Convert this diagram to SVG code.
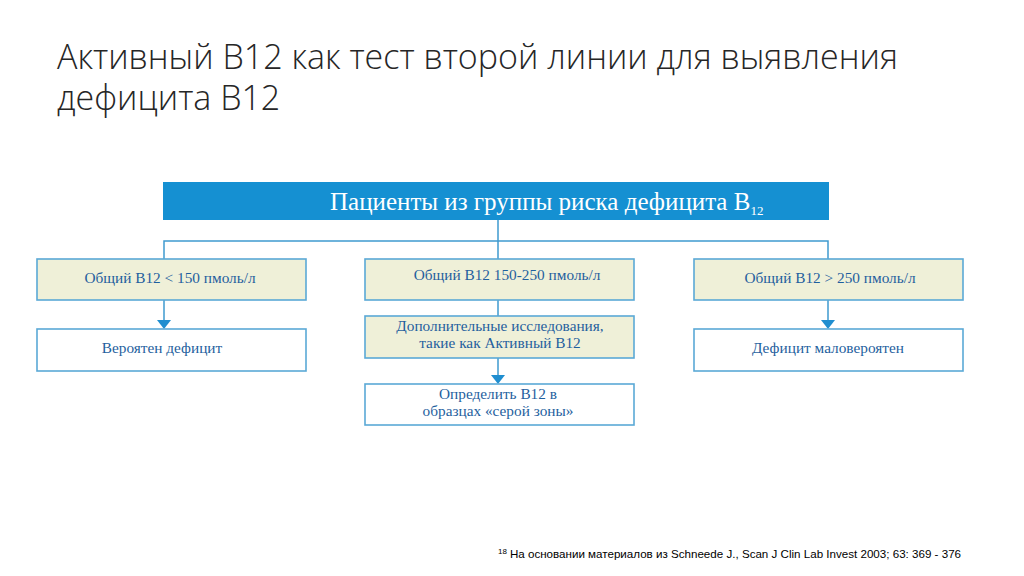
<svg xmlns="http://www.w3.org/2000/svg" width="1024" height="576" viewBox="0 0 1024 576">
<defs>
<style>
.title{font-family:"Open Sans","Noto Sans","Liberation Sans",sans-serif;font-size:34px;font-weight:300;fill:#262626;}
.box{stroke:#5aa9d6;stroke-width:1.6;}
.y{fill:#eff0d8;}
.w{fill:#ffffff;}
.t{font-family:"Liberation Serif","DejaVu Serif",serif;font-size:15.3px;fill:#1f5f9e;text-anchor:middle;}
.bar{fill:#1590d2;}
.bt{font-family:"Liberation Serif","DejaVu Serif",serif;font-size:25px;fill:#ffffff;}
.ln{stroke:#3f9bd0;stroke-width:1.5;fill:none;}
.ah{fill:#1f8ed0;}
.fn{font-family:"Liberation Sans",Arial,sans-serif;font-size:11.6px;fill:#000;}
</style>
</defs>
<rect width="1024" height="576" fill="#ffffff"/>
<g id="title">
<text class="title" x="57" y="69">Активный B12 как тест второй линии для выявления</text>
<text class="title" x="57" y="110">дефицита B12</text>
</g>
<g id="connectors">
<path class="ln" d="M498,220 V241 M164,259 V241 H828 V259 M498,241 V259"/>
<path class="ln" d="M164,300 V321 M498,300 V316 M498,358 V376 M828,300 V321"/>
<polygon class="ah" points="157,320 171,320 164,329"/>
<polygon class="ah" points="491,375 505,375 498,384"/>
<polygon class="ah" points="821,320 835,320 828,329"/>
</g>
<g id="root">
<rect class="bar" x="163" y="182" width="666" height="38"/>
<text class="bt" x="330" y="210">Пациенты из группы риска дефицита B<tspan font-size="13" dy="5">12</tspan></text>
</g>
<g id="low">
<rect class="box y" x="37" y="259" width="269" height="41"/>
<text class="t" x="170" y="283">Общий B12 &lt; 150 пмоль/л</text>
</g>
<g id="mid">
<rect class="box y" x="365" y="259" width="269" height="41"/>
<text class="t" x="507" y="280">Общий B12 150-250 пмоль/л</text>
</g>
<g id="high">
<rect class="box y" x="694" y="259" width="269" height="41"/>
<text class="t" x="830" y="283">Общий B12 &gt; 250 пмоль/л</text>
</g>
<g id="likely">
<rect class="box w" x="37" y="329" width="269" height="42"/>
<text class="t" x="162" y="353">Вероятен дефицит</text>
</g>
<g id="extra">
<rect class="box y" x="365" y="316" width="269" height="42"/>
<text class="t" x="500" y="331">Дополнительные исследования,</text>
<text class="t" x="500" y="348">такие как Активный B12</text>
</g>
<g id="unlikely">
<rect class="box w" x="694" y="329" width="269" height="42"/>
<text class="t" x="828" y="353">Дефицит маловероятен</text>
</g>
<g id="grey">
<rect class="box w" x="365" y="384" width="269" height="41"/>
<text class="t" x="498" y="399">Определить B12 в</text>
<text class="t" x="498" y="416">образцах «серой зоны»</text>
</g>
<g id="footnote">
<text class="fn" x="498" y="558"><tspan font-size="8" dy="-4">18</tspan><tspan dx="3" dy="4">На основании материалов из Schneede J., Scan J Clin Lab Invest 2003; 63: 369 - 376</tspan></text>
</g>
</svg>
